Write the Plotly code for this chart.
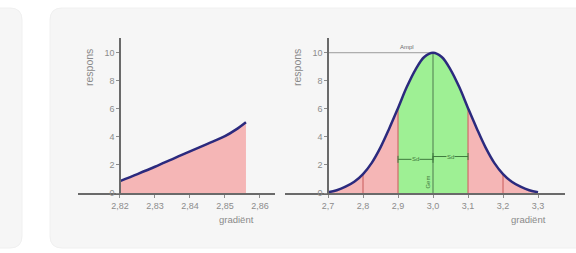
import plotly.graph_objects as go

# ---- data ----
left_x = [2.820, 2.825, 2.830, 2.835, 2.840, 2.845, 2.850, 2.853, 2.856]
left_y = [0.85, 1.35, 1.87, 2.42, 2.97, 3.5, 4.05, 4.5, 5.05]

right_x = [2.700, 2.725, 2.750, 2.775, 2.800, 2.825, 2.850, 2.875, 2.900, 2.925, 2.950, 2.975, 3.000,
           3.025, 3.050, 3.075, 3.100, 3.125, 3.150, 3.175, 3.200, 3.225, 3.250, 3.275, 3.300]
right_y = [0.05, 0.2, 0.45, 0.8, 1.35, 2.15, 3.25, 4.6, 6.05, 7.55, 8.8, 9.7, 10.0,
           9.7, 8.8, 7.55, 6.05, 4.6, 3.25, 2.15, 1.35, 0.8, 0.45, 0.2, 0.05]

left_ticks = [2.82, 2.83, 2.84, 2.85, 2.86]
right_ticks = [2.7, 2.8, 2.9, 3.0, 3.1, 3.2, 3.3]
y_ticks = [0, 2, 4, 6, 8, 10]
mark_x = [2.8, 2.9, 3.1, 3.2]
green_lo, green_hi = 2.9, 3.1
peak_x, peak_y = 3.0, 10.0
sd_levels = [2.4, 2.6]

W, H = 576, 253
PINK = "rgba(245,182,182,1)"
GREEN = "rgba(158,240,148,1)"
NAVY = "#2b2a7e"
AX = "#6a6a6a"
TK = "#8c8c8c"

def px(v):
    return v / W

def py(v):
    return 1 - v / H

fig = go.Figure()

# left panel
fig.add_trace(go.Scatter(x=left_x, y=left_y, mode="lines", fill="tozeroy", fillcolor=PINK,
                         line=dict(color=NAVY, width=2.5, shape="spline"), xaxis="x", yaxis="y",
                         hoverinfo="skip"))

# right panel fills
def seg(lo, hi):
    xs = [x for x in right_x if lo - 1e-9 <= x <= hi + 1e-9]
    ys = [y for x, y in zip(right_x, right_y) if lo - 1e-9 <= x <= hi + 1e-9]
    return xs, ys

for lo, hi, col in [(right_x[0], green_lo, PINK), (green_lo, green_hi, GREEN), (green_hi, right_x[-1], PINK)]:
    xs, ys = seg(lo, hi)
    fig.add_trace(go.Scatter(x=xs, y=ys, mode="lines", fill="tozeroy", fillcolor=col,
                             line=dict(color="rgba(0,0,0,0)", width=0, shape="spline"),
                             xaxis="x2", yaxis="y2", hoverinfo="skip"))

# red vertical marks
for mx in mark_x:
    yv = right_y[right_x.index(min(right_x, key=lambda v: abs(v - mx)))]
    fig.add_trace(go.Scatter(x=[mx, mx], y=[0, yv], mode="lines",
                             line=dict(color="#d06a6a", width=1.2), xaxis="x2", yaxis="y2",
                             hoverinfo="skip"))

# amplitude line and centre line
fig.add_trace(go.Scatter(x=[right_x[0], peak_x], y=[peak_y, peak_y], mode="lines",
                         line=dict(color="#9a9a9a", width=1), xaxis="x2", yaxis="y2", hoverinfo="skip"))
fig.add_trace(go.Scatter(x=[peak_x, peak_x], y=[0, peak_y], mode="lines",
                         line=dict(color="#4f7a4f", width=1), xaxis="x2", yaxis="y2", hoverinfo="skip"))

# Sd arrows
for (a, b), lv in zip([(green_lo, peak_x), (peak_x, green_hi)], sd_levels):
    fig.add_trace(go.Scatter(x=[a, b], y=[lv, lv], mode="lines+markers",
                             marker=dict(symbol="line-ns", size=5, line=dict(color="#3e7a3e", width=1)),
                             line=dict(color="#3e7a3e", width=1), xaxis="x2", yaxis="y2", hoverinfo="skip"))

# curve line on top
fig.add_trace(go.Scatter(x=right_x, y=right_y, mode="lines",
                         line=dict(color=NAVY, width=2.5, shape="spline"), xaxis="x2", yaxis="y2",
                         hoverinfo="skip"))

axis_common = dict(showgrid=False, zeroline=False, showline=True, linecolor=AX, linewidth=1.5,
                   ticks="outside", ticklen=3, tickcolor=TK, tickwidth=1, automargin=False,
                   tickfont=dict(size=9, color=TK, family="Liberation Sans"))

fig.update_layout(
    width=W, height=H, margin=dict(l=0, r=0, t=0, b=0, autoexpand=False),
    paper_bgcolor="white", plot_bgcolor="rgba(0,0,0,0)", showlegend=False,
    separators=", ",
    xaxis=dict(domain=[px(78), px(275)], range=[2.808, 2.8643], tickvals=left_ticks,
               tickformat=".2f", anchor="y", **axis_common),
    yaxis=dict(domain=[py(193), py(38)], range=[0, 11.05], tickvals=y_ticks,
               anchor="free", position=px(120), **axis_common),
    xaxis2=dict(domain=[px(285), px(565)], range=[2.5771, 3.3771], tickvals=right_ticks,
                tickformat=".1f", anchor="y2", **axis_common),
    yaxis2=dict(domain=[py(193), py(38)], range=[0, 11.05], tickvals=y_ticks,
                anchor="free", position=px(328), **axis_common),
)

# cards
def card(x0, x1, y0, y1, r=12):
    X0, X1 = px(x0), px(x1)
    Y0, Y1 = py(y1), py(y0)
    rx, ry = r / W, r / H
    return (f"M {X0+rx},{Y1} L {X1-rx},{Y1} Q {X1},{Y1} {X1},{Y1-ry} L {X1},{Y0+ry} "
            f"Q {X1},{Y0} {X1-rx},{Y0} L {X0+rx},{Y0} Q {X0},{Y0} {X0},{Y0+ry} "
            f"L {X0},{Y1-ry} Q {X0},{Y1} {X0+rx},{Y1} Z")

for x0, x1 in [(-30, 22), (50, 600)]:
    fig.add_shape(type="path", path=card(x0, x1, 8, 248), xref="paper", yref="paper",
                  fillcolor="#f6f6f6", line=dict(color="#f0f0f0", width=1), layer="below")

tf = dict(family="Liberation Sans", color="#8a8a8a")
# axis titles
for xp in [89, 297]:
    fig.add_annotation(text="respons", x=px(xp), y=py(68), xref="paper", yref="paper",
                       xanchor="center", yanchor="middle",
                       textangle=-90, showarrow=False, font=dict(size=10.5, **tf))
for xp in [236, 528]:
    fig.add_annotation(text="gradiënt", x=px(xp), y=py(219), xref="paper", yref="paper",
                       xanchor="center", yanchor="middle",
                       showarrow=False, font=dict(size=9.5, **tf))

# inner labels
fig.add_annotation(text="Ampl", x=2.925, y=10.4, xref="x2", yref="y2", showarrow=False,
                   font=dict(size=6, color="#6a6a6a", family="Liberation Sans"))
for (a, b), lv in zip([(green_lo, peak_x), (peak_x, green_hi)], sd_levels):
    fig.add_annotation(text="Sd", x=(a + b) / 2, y=lv, xref="x2", yref="y2", showarrow=False,
                       bgcolor=GREEN, borderpad=0,
                       font=dict(size=6, color="#3e7a3e", family="Liberation Sans"))
fig.add_annotation(text="Gem", x=2.986, y=0.75, xref="x2", yref="y2", showarrow=False, textangle=-90,
                   font=dict(size=6, color="#3e7a3e", family="Liberation Sans"))

fig.write_html("out.html", config={"displayModeBar": False},
               post_script="document.body.style.margin='0';document.body.style.overflow='hidden';")
